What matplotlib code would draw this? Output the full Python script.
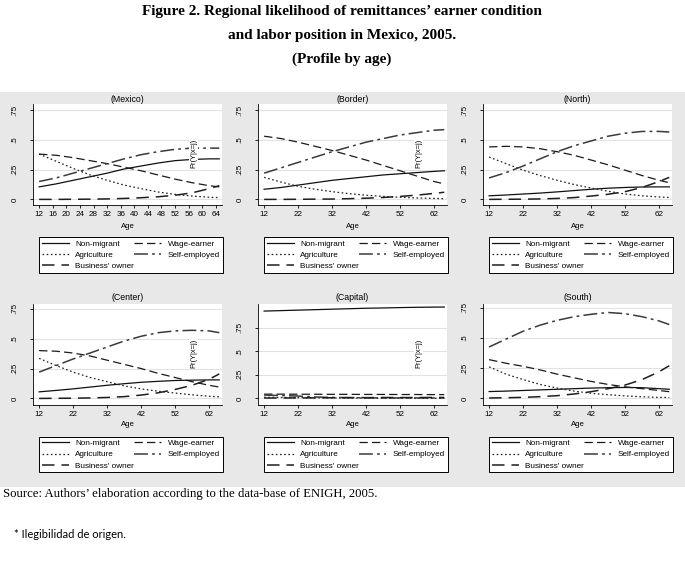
import matplotlib
matplotlib.use("Agg")
import matplotlib.pyplot as plt
from matplotlib.lines import Line2D
from matplotlib.patches import Rectangle

AGES = [12, 17, 22, 27, 32, 37, 42, 47, 52, 57, 62, 65]

CATEGORIES = ["Non-migrant", "Wage-earner", "Agriculture", "Self-employed", "Business' owner"]

MEXICO = {
    "Non-migrant":     [0.105, 0.13, 0.16, 0.19, 0.22, 0.255, 0.28, 0.305, 0.325, 0.335, 0.34, 0.34],
    "Wage-earner":     [0.38, 0.37, 0.35, 0.325, 0.30, 0.27, 0.24, 0.205, 0.17, 0.14, 0.115, 0.105],
    "Agriculture":     [0.38, 0.32, 0.26, 0.205, 0.16, 0.12, 0.09, 0.062, 0.042, 0.028, 0.018, 0.015],
    "Self-employed":   [0.15, 0.18, 0.22, 0.26, 0.30, 0.34, 0.375, 0.40, 0.42, 0.43, 0.43, 0.43],
    "Business' owner": [0.0, 0.0, 0.001, 0.002, 0.004, 0.008, 0.014, 0.022, 0.035, 0.055, 0.09, 0.115],
}
BORDER = {
    "Non-migrant":     [0.085, 0.10, 0.12, 0.14, 0.16, 0.175, 0.19, 0.205, 0.215, 0.225, 0.235, 0.24],
    "Wage-earner":     [0.53, 0.51, 0.48, 0.445, 0.41, 0.37, 0.33, 0.285, 0.24, 0.195, 0.15, 0.13],
    "Agriculture":     [0.185, 0.145, 0.11, 0.085, 0.065, 0.048, 0.035, 0.025, 0.018, 0.012, 0.008, 0.006],
    "Self-employed":   [0.22, 0.265, 0.31, 0.355, 0.40, 0.44, 0.48, 0.51, 0.54, 0.56, 0.58, 0.585],
    "Business' owner": [0.0, 0.0, 0.001, 0.002, 0.003, 0.006, 0.01, 0.016, 0.025, 0.036, 0.05, 0.06],
}
NORTH = {
    "Non-migrant":     [0.03, 0.037, 0.045, 0.053, 0.063, 0.074, 0.085, 0.094, 0.10, 0.104, 0.105, 0.105],
    "Wage-earner":     [0.44, 0.445, 0.44, 0.425, 0.40, 0.37, 0.33, 0.29, 0.245, 0.20, 0.16, 0.14],
    "Agriculture":     [0.355, 0.30, 0.245, 0.20, 0.16, 0.125, 0.095, 0.068, 0.045, 0.03, 0.02, 0.016],
    "Self-employed":   [0.18, 0.225, 0.28, 0.34, 0.40, 0.45, 0.49, 0.53, 0.555, 0.57, 0.57, 0.565],
    "Business' owner": [0.0, 0.001, 0.002, 0.004, 0.008, 0.015, 0.028, 0.043, 0.065, 0.10, 0.15, 0.185],
}
CENTER = {
    "Non-migrant":     [0.055, 0.067, 0.08, 0.095, 0.11, 0.123, 0.135, 0.143, 0.15, 0.153, 0.155, 0.155],
    "Wage-earner":     [0.40, 0.395, 0.38, 0.355, 0.32, 0.285, 0.25, 0.21, 0.175, 0.14, 0.11, 0.095],
    "Agriculture":     [0.335, 0.275, 0.22, 0.175, 0.14, 0.105, 0.08, 0.06, 0.045, 0.03, 0.018, 0.013],
    "Self-employed":   [0.22, 0.275, 0.33, 0.38, 0.43, 0.48, 0.52, 0.55, 0.565, 0.57, 0.565, 0.55],
    "Business' owner": [0.0, 0.001, 0.002, 0.004, 0.008, 0.015, 0.028, 0.047, 0.075, 0.11, 0.16, 0.205],
}
CAPITAL = {
    "Non-migrant":     [0.925, 0.93, 0.935, 0.94, 0.945, 0.95, 0.955, 0.958, 0.962, 0.965, 0.967, 0.968],
    "Wage-earner":     [0.045, 0.045, 0.044, 0.044, 0.043, 0.043, 0.042, 0.042, 0.041, 0.041, 0.04, 0.04],
    "Agriculture":     [0.012, 0.01, 0.008, 0.006, 0.005, 0.004, 0.003, 0.002, 0.002, 0.001, 0.001, 0.001],
    "Self-employed":   [0.035, 0.03, 0.025, 0.015, 0.01, 0.008, 0.006, 0.005, 0.005, 0.005, 0.005, 0.005],
    "Business' owner": [0.004, 0.004, 0.005, 0.006, 0.007, 0.008, 0.008, 0.009, 0.009, 0.009, 0.01, 0.01],
}
SOUTH = {
    "Non-migrant":     [0.056, 0.06, 0.065, 0.07, 0.075, 0.08, 0.085, 0.088, 0.09, 0.088, 0.08, 0.075],
    "Wage-earner":     [0.32, 0.29, 0.265, 0.235, 0.20, 0.17, 0.14, 0.115, 0.095, 0.08, 0.065, 0.055],
    "Agriculture":     [0.26, 0.20, 0.155, 0.115, 0.085, 0.06, 0.042, 0.03, 0.02, 0.013, 0.008, 0.007],
    "Self-employed":   [0.425, 0.49, 0.555, 0.605, 0.645, 0.675, 0.695, 0.71, 0.70, 0.675, 0.64, 0.61],
    "Business' owner": [0.003, 0.005, 0.008, 0.014, 0.022, 0.036, 0.055, 0.08, 0.11, 0.155, 0.22, 0.27],
}

XTICKS_MEXICO = list(range(12, 65, 4))
XTICKS_OTHER = [12, 22, 32, 42, 52, 62]
YTICKS = [0, 0.25, 0.5, 0.75]
YTICK_LABELS = ["0", ".25", ".5", ".75"]

W, H = 685, 570
SANS = "Liberation Sans"
SERIF = "Liberation Serif"

STYLES = {
    "Non-migrant":     dict(color="#111111", lw=0.9, dashes=()),
    "Wage-earner":     dict(color="#1a1a1a", lw=0.9, dashes=(6, 3)),
    "Agriculture":     dict(color="#222222", lw=0.9, dashes=(1.2, 1.8)),
    "Self-employed":   dict(color="#3a3a3a", lw=1.1, dashes=(10, 3, 2, 3)),
    "Business' owner": dict(color="#1e1e1e", lw=1.1, dashes=(9, 5)),
}


def px_rect(left: float, top: float, right: float, bottom: float) -> list:
    """Pixel box (from top-left) -> figure fraction rect"""
    return [left / W, 1 - bottom / H, (right - left) / W, (bottom - top) / H]


def fig_text(fig, x: float, y: float, s: str, **kw) -> None:
    fig.text(x / W, 1 - y / H, s, **kw)


def draw_panel(fig, data, title, xticks, ylim, col, row, show_pr=True) -> None:
    off = 225 * col
    plot_top, plot_bot, title_y, age_y, leg_top, leg_bot = row
    ax = fig.add_axes(px_rect(off + 33, plot_top, off + 222, plot_bot))
    ax.set_facecolor("white")

    for cat in CATEGORIES:
        st = STYLES[cat]
        ln, = ax.plot(AGES, data[cat], color=st["color"], lw=st["lw"], zorder=3)
        if st["dashes"]:
            ln.set_dashes(st["dashes"])

    ax.set_xlim(10.2, 65.8)
    ax.set_ylim(*ylim)
    ax.set_xticks(xticks)
    ax.set_yticks(YTICKS)
    ax.set_yticklabels(YTICK_LABELS, rotation=90, va="center")
    ax.tick_params(axis="x", labelsize=5.8, length=2.5, width=0.6, pad=1.5)
    ax.tick_params(axis="y", labelsize=5.8, length=2.5, width=0.6, pad=8)
    for lab in ax.get_xticklabels() + ax.get_yticklabels():
        lab.set_family(SANS)
    ax.grid(axis="y", color="#e2e2e2", lw=0.8, zorder=0)
    ax.set_axisbelow(True)
    for side in ("top", "right"):
        ax.spines[side].set_visible(False)
    for side in ("left", "bottom"):
        ax.spines[side].set_linewidth(0.6)

    if show_pr:
        ax.text(0.85, 0.51, "Pr(Y|x=j)", transform=ax.transAxes, rotation=90,
                ha="center", va="center", fontsize=5.4, family=SANS, zorder=5,
                bbox=dict(facecolor="white", edgecolor="none", pad=0.6))

    cx = off + (33 + 222) / 2
    fig_text(fig, cx, title_y, title, ha="center", va="center", fontsize=6.3, family=SANS)
    fig_text(fig, cx, age_y, "Age", ha="center", va="center", fontsize=5.6, family=SANS)

    # legend box below the plot, 2 columns filled row-wise
    lax = fig.add_axes(px_rect(off + 39, leg_top, off + 223, leg_bot))
    lax.axis("off")
    order = ["Non-migrant", "Agriculture", "Business' owner", "Wage-earner", "Self-employed"]
    handles = []
    for cat in order:
        st = STYLES[cat]
        h = Line2D([], [], color=st["color"], lw=st["lw"])
        if st["dashes"]:
            h.set_dashes(st["dashes"])
        handles.append(h)
    leg = lax.legend(handles, order, ncol=2, loc="center", mode="expand",
                     bbox_to_anchor=(0, 0, 1, 1), fancybox=False, framealpha=1,
                     edgecolor="black", prop=dict(family=SANS, size=5.9),
                     handlelength=3.3, handletextpad=0.8, labelspacing=0.42,
                     borderaxespad=0, borderpad=0.35, columnspacing=1.0)
    leg.get_frame().set_linewidth(0.7)


plt.rcParams["lines.scale_dashes"] = False
fig = plt.figure(figsize=(W / 100, H / 100), dpi=100)
fig.patch.set_facecolor("white")
fig.patches.append(Rectangle((0, 1 - 487 / H), 1, (487 - 92) / H, transform=fig.transFigure,
                             facecolor="#e8e8e8", edgecolor="none", zorder=-5))

TOP_ROW = (104, 205, 99, 226, 235, 275)
BOTTOM_ROW = (304, 405, 298, 425, 432, 477)

draw_panel(fig, MEXICO, "(Mexico)", XTICKS_MEXICO, (-0.047, 0.8), 0, TOP_ROW)
draw_panel(fig, BORDER, "(Border)", XTICKS_OTHER, (-0.047, 0.8), 1, TOP_ROW)
draw_panel(fig, NORTH, "(North)", XTICKS_OTHER, (-0.047, 0.8), 2, TOP_ROW, show_pr=False)
draw_panel(fig, CENTER, "(Center)", XTICKS_OTHER, (-0.055, 0.79), 0, BOTTOM_ROW)
draw_panel(fig, CAPITAL, "(Capital)", XTICKS_OTHER, (-0.07, 1.0), 1, BOTTOM_ROW)
draw_panel(fig, SOUTH, "(South)", XTICKS_OTHER, (-0.055, 0.78), 2, BOTTOM_ROW, show_pr=False)

fig_text(fig, 342, 12, "Figure 2. Regional likelihood of remittances\u2019 earner condition",
         ha="center", va="center", fontsize=11, family=SERIF, weight="bold")
fig_text(fig, 342, 35, "and labor position in Mexico, 2005.",
         ha="center", va="center", fontsize=11, family=SERIF, weight="bold")
fig_text(fig, 342, 59, "(Profile by age)",
         ha="center", va="center", fontsize=11, family=SERIF, weight="bold")
fig_text(fig, 3, 494, "Source: Authors\u2019 elaboration according to the data-base of ENIGH, 2005.",
         ha="left", va="center", fontsize=9.2, family=SERIF)
fig_text(fig, 14, 535, "* Ilegibilidad de origen.", ha="left", va="center",
         fontsize=8, family="Lato")

fig.savefig("out.png", dpi=100)
